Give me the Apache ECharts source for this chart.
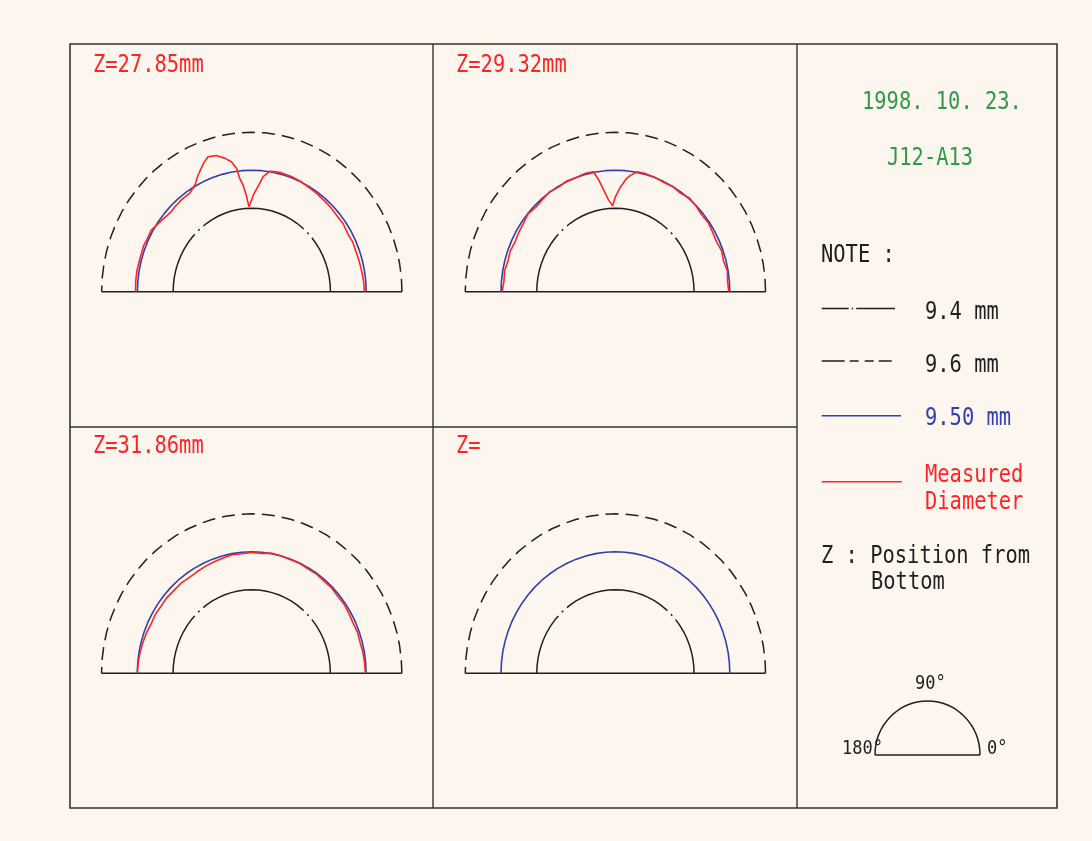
<!DOCTYPE html>
<html>
<head>
<meta charset="utf-8">
<script src="https://cdn.jsdelivr.net/npm/echarts@6/dist/echarts.min.js"></script>
<style>
  html, body { margin: 0; padding: 0; background: #fdf6ef; }
  #main { width: 1092px; height: 841px; }
</style>
</head>
<body>
<div id="main"></div>
<script>
// 直径基准 (mm)
var D0 = 9.18;
var innerDiam = 9.4;
var outerDiam = 9.6;
var nominalDiam = 9.50;

// 参考圆的采样角度 (度)
var refAngles = [0, 5, 10, 15, 20, 25, 30, 35, 40, 45, 50, 55, 60, 65, 70, 75, 80, 85, 90,
  95, 100, 105, 110, 115, 120, 125, 130, 135, 140, 145, 150, 155, 160, 165, 170, 175, 180];

// Z=27.85mm 实测直径
var p1Angles = [0, 5, 10, 15, 20, 25, 30, 35, 40, 45, 50, 55, 60, 65, 70, 75, 78, 81, 84, 86, 89,
  91, 92, 93.5, 95, 96.5, 97.5, 99.5, 102, 105.5, 109, 112, 116, 119.5, 124, 129, 134, 138, 143,
  148, 150, 155, 158, 165, 170, 175, 180];
var p1Diam = [9.495, 9.494, 9.492, 9.491, 9.490, 9.491, 9.489, 9.492, 9.491, 9.493, 9.494, 9.496,
  9.498, 9.501, 9.503, 9.504, 9.503, 9.501, 9.485, 9.462, 9.435, 9.413, 9.404, 9.435, 9.462,
  9.481, 9.508, 9.527, 9.539, 9.552, 9.556, 9.543, 9.522, 9.503, 9.492, 9.492, 9.490, 9.489,
  9.494, 9.501, 9.505, 9.504, 9.506, 9.505, 9.506, 9.506, 9.505];

// Z=29.32mm 实测直径
var p2Angles = [0, 5, 10, 15, 20, 25, 30, 35, 40, 45, 50, 55, 60, 65, 70, 75, 79, 82, 84, 87, 90,
  92, 93, 94.5, 97, 99, 101, 105, 110, 115, 120, 125, 130, 135, 140, 145, 150, 155, 160, 165,
  170, 175, 180];
var p2Diam = [9.497, 9.495, 9.498, 9.493, 9.496, 9.492, 9.494, 9.497, 9.495, 9.499, 9.502, 9.497,
  9.500, 9.498, 9.501, 9.502, 9.502, 9.490, 9.480, 9.457, 9.430, 9.406, 9.413, 9.422, 9.450,
  9.478, 9.502, 9.503, 9.500, 9.502, 9.498, 9.501, 9.497, 9.495, 9.499, 9.494, 9.492, 9.490,
  9.493, 9.491, 9.495, 9.493, 9.497];

// Z=31.86mm 实测直径
var p3Angles = [0, 5, 10, 15, 20, 25, 30, 35, 40, 45, 50, 55, 60, 65, 70, 75, 80, 85, 90, 95,
  100, 105, 110, 115, 120, 125, 130, 135, 140, 145, 150, 155, 160, 165, 170, 175, 180];
var p3Diam = [9.498, 9.497, 9.496, 9.494, 9.495, 9.493, 9.494, 9.496, 9.495, 9.497, 9.496, 9.498,
  9.497, 9.499, 9.498, 9.500, 9.501, 9.497, 9.498, 9.496, 9.497, 9.494, 9.492, 9.490, 9.488,
  9.487, 9.489, 9.488, 9.490, 9.489, 9.491, 9.490, 9.493, 9.495, 9.497, 9.499, 9.500];

var panelLabels = ['Z=27.85mm', 'Z=29.32mm', 'Z=31.86mm', 'Z='];

var chart = echarts.init(document.getElementById('main'));
var dark = '#1f1f1f';
var blue = '#2f3fae';
var red = '#ff2424';
var green = '#2f9a4c';
var mono = '"DejaVu Sans Mono", monospace';

// 极坐标 -> 直角坐标
function toXY (d, a) {
  var r = d - D0, t = a * Math.PI / 180;
  return [r * Math.cos(t), r * Math.sin(t)];
}
function ring (d) {
  return refAngles.map(function (a) { return toXY(d, a); });
}
function measured (angles, diam) {
  return angles.map(function (a, i) { return toXY(diam[i], a); });
}

var centers = [[251.8, 291.7], [615.4, 291.7], [251.7, 673.3], [615.4, 673.3]];
var pxPerMm = 357.5, yStretch = 1.062, span = 0.44;
var measuredData = [measured(p1Angles, p1Diam), measured(p2Angles, p2Diam), measured(p3Angles, p3Diam), null];

var grids = [], xAxes = [], yAxes = [], series = [];
centers.forEach(function (c, i) {
  var w = span * 2 * pxPerMm, h = span * pxPerMm * yStretch;
  grids.push({ left: c[0] - w / 2, top: c[1] - h, width: w, height: h });
  xAxes.push({ gridIndex: i, type: 'value', min: -span, max: span, show: false });
  yAxes.push({ gridIndex: i, type: 'value', min: 0, max: span, show: false });
  var base = { type: 'line', xAxisIndex: i, yAxisIndex: i, symbol: 'none', clip: false, silent: true, animation: false };
  series.push(Object.assign({}, base, {
    data: ring(innerDiam),
    lineStyle: { color: dark, width: 1.5, type: [110, 5, 2, 5], dashOffset: 52 }
  }));
  series.push(Object.assign({}, base, {
    data: ring(outerDiam),
    lineStyle: { color: dark, width: 1.5, type: [13, 7] }
  }));
  series.push(Object.assign({}, base, {
    data: [toXY(outerDiam, 180), toXY(outerDiam, 0)],
    lineStyle: { color: dark, width: 1.5 }
  }));
  series.push(Object.assign({}, base, {
    data: ring(nominalDiam),
    lineStyle: { color: blue, width: 1.6 }
  }));
  if (measuredData[i]) {
    series.push(Object.assign({}, base, {
      data: measuredData[i],
      lineStyle: { color: red, width: 1.6 }
    }));
  }
});

// 文字 (等宽字体横向压缩)
function label (text, x, y, color, size, sx) {
  return {
    type: 'text', x: x, y: y, scaleX: sx || 0.817, silent: true,
    style: { text: text, x: 0, y: 0, fill: color, font: (size || 25) + 'px ' + mono, verticalAlign: 'middle' }
  };
}
function hline (x1, x2, y, color, dash, width) {
  return {
    type: 'line', silent: true,
    shape: { x1: x1, y1: y, x2: x2, y2: y },
    style: { stroke: color, lineWidth: width || 1.5, lineDash: dash || null }
  };
}

var graphics = [
  { type: 'rect', silent: true, shape: { x: 70, y: 44, width: 987, height: 764 }, style: { fill: null, stroke: '#333', lineWidth: 1.6 } },
  { type: 'line', silent: true, shape: { x1: 433, y1: 44, x2: 433, y2: 808 }, style: { stroke: '#333', lineWidth: 1.4 } },
  { type: 'line', silent: true, shape: { x1: 797, y1: 44, x2: 797, y2: 808 }, style: { stroke: '#333', lineWidth: 1.4 } },
  { type: 'line', silent: true, shape: { x1: 70, y1: 427, x2: 797, y2: 427 }, style: { stroke: '#333', lineWidth: 1.4 } },
  label(panelLabels[0], 93, 65, red),
  label(panelLabels[1], 456, 65, red),
  label(panelLabels[2], 93, 446, red),
  label(panelLabels[3], 456, 446, red),
  label('1998. 10. 23.', 862, 102, green),
  label('J12-A13', 887, 158, green),
  label('NOTE :', 821, 255, dark),
  hline(821.7, 895, 308.5, dark, [27, 3, 1.5, 3, 40, 100], 1.5),
  label('9.4 mm', 925, 312, dark),
  hline(821.7, 895, 361, dark, [23, 5, 9, 6, 9, 5, 13, 100], 1.5),
  label('9.6 mm', 925, 365, dark),
  hline(821.7, 901, 415.7, blue, null, 1.6),
  label('9.50 mm', 925, 418, blue),
  hline(821.7, 901.7, 481.7, red, null, 1.6),
  label('Measured', 925, 475, red),
  label('Diameter', 925, 502, red),
  label('Z : Position from', 821, 556, dark),
  label('Bottom', 871, 582, dark),
  { type: 'arc', silent: true, x: 927.5, y: 755, scaleY: 1.03,
    shape: { cx: 0, cy: 0, r: 52.5, startAngle: Math.PI, endAngle: Math.PI * 2 },
    style: { stroke: dark, lineWidth: 1.5, fill: null } },
  hline(875, 980, 755, dark, null, 1.5),
  label('90°', 915, 684, dark, 20, 0.85),
  label('180°', 842, 749, dark, 20, 0.85),
  label('0°', 987, 749, dark, 20, 0.85)
];

var option = {
  backgroundColor: '#fdf6ef',
  animation: false,
  grid: grids,
  xAxis: xAxes,
  yAxis: yAxes,
  series: series,
  graphic: graphics
};
chart.setOption(option, true);
</script>
</body>
</html>
